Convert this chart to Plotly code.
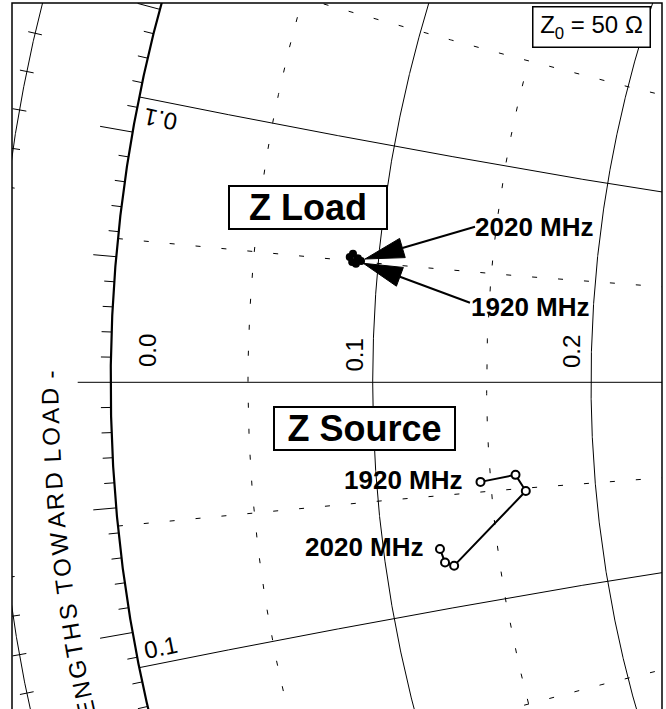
import math
import numpy as np
import plotly.graph_objects as go

# ---------------- data ----------------
Z0 = 50.0
freq_mhz = [1920, 1940, 1960, 1980, 2000, 2020]
load_r_ohm = [4.57, 4.64, 4.54, 4.46, 4.40, 4.46]
load_x_ohm = [2.57, 2.52, 2.45, 2.48, 2.58, 2.65]
src_r_ohm = [7.27, 8.09, 8.30, 6.47, 6.28, 6.21]
src_x_ohm = [-2.27, -2.17, -2.57, -4.08, -3.98, -3.67]

r_major = [0.0, 0.1, 0.2]
r_minor = [0.05, 0.15]
x_major = [0.1, -0.1]
x_minor = [0.05, -0.05, 0.15, -0.15]
r_labels = ["0.0", "0.1", "0.2"]
x_labels = ["0.1", "0.1"]
scale_text = "- WAVELENGTHS TOWARD LOAD -"

# ---------------- geometry ----------------
W, H = 666, 709
S = 1441.0            # pixels per unit of reflection coefficient
CX, CY = 1551.7, 382.3


def P(px, py):
    return (px - CX) / S, (CY - py) / S


def gam(z):
    return (z - 1) / (z + 1)


fig = go.Figure()


def add_line(xs, ys, width=1.0, dash=None, color="black", fill=None):
    fig.add_trace(go.Scatter(x=list(xs), y=list(ys), mode="lines",
                             line=dict(color=color, width=width, dash=dash),
                             fill=fill, fillcolor=color if fill else None,
                             hoverinfo="skip", showlegend=False))


DASH = "5px,21px"
xs_sweep = np.linspace(-1.0, 1.0, 4001)
for r in r_major:
    g = gam(r + 1j * xs_sweep)
    add_line(g.real, g.imag, width=2.2 if r == 0 else 1.0)
for r in r_minor:
    xx = np.linspace(-0.15, 0.15, 1501)
    g = gam(r + 1j * xx)
    add_line(g.real, g.imag, width=1.0, dash=DASH)
rs_sweep = np.linspace(0.0, 1.5, 3001)
for x in x_major:
    g = gam(rs_sweep + 1j * x)
    add_line(g.real, g.imag, width=1.0)
for x in x_minor:
    g = gam(rs_sweep + 1j * x)
    add_line(g.real, g.imag, width=1.0, dash=DASH)
# real axis
add_line([-1.0, 1.0], [0.0, 0.0], width=1.0)
# outer (wavelength) circle
R_OUT = 1.08
th = np.radians(np.linspace(140, 220, 1601))
add_line(R_OUT * np.cos(th), R_OUT * np.sin(th), width=1.0)

# ticks on unit circle (angle of reflection coefficient, every degree)
tx, ty = [], []
for deg in range(150, 211):
    if deg % 10 == 0:
        L = 33
    elif deg % 5 == 0:
        L = 23
    else:
        L = 10
    a = math.radians(deg)
    r1 = 1.0 + L / S
    tx += [math.cos(a), r1 * math.cos(a), None]
    ty += [math.sin(a), r1 * math.sin(a), None]
add_line(tx, ty, width=1.0)
# ticks on outer circle (every 0.002 wavelength)
tx, ty = [], []
for k in range(-14, 15):
    a = math.radians(180 + 360 * 0.002 * k / 0.5)
    r0, r1 = R_OUT - 7 / S, R_OUT + 7 / S
    tx += [r0 * math.cos(a), r1 * math.cos(a), None]
    ty += [r0 * math.sin(a), r1 * math.sin(a), None]
add_line(tx, ty, width=1.0)

# ---------------- data traces ----------------
zl = [complex(r, x) for r, x in zip(load_r_ohm, load_x_ohm)]
gl = [(z - Z0) / (z + Z0) for z in zl]
zs = [complex(r, x) for r, x in zip(src_r_ohm, src_x_ohm)]
gs = [(z - Z0) / (z + Z0) for z in zs]

fig.add_trace(go.Scatter(x=[g.real for g in gl], y=[g.imag for g in gl],
                         mode="lines+markers", line=dict(color="black", width=2),
                         marker=dict(symbol="circle", size=8, color="black"),
                         hoverinfo="skip", showlegend=False))
fig.add_trace(go.Scatter(x=[g.real for g in gs], y=[g.imag for g in gs],
                         mode="lines+markers", line=dict(color="black", width=2),
                         marker=dict(symbol="circle", size=8, color="white",
                                     line=dict(color="black", width=2)),
                         hoverinfo="skip", showlegend=False))

# ---------------- arrows for load labels ----------------
def arrow(tail, tip, head_len=39, head_w=20):
    tx_, ty_ = tip
    dx, dy = tail[0] - tx_, tail[1] - ty_
    n = math.hypot(dx, dy)
    ux, uy = dx / n, dy / n
    bx, by = tx_ + ux * head_len, ty_ + uy * head_len
    px_, py_ = -uy, ux
    c1 = (bx + px_ * head_w / 2, by + py_ * head_w / 2)
    c2 = (bx - px_ * head_w / 2, by - py_ * head_w / 2)
    pts = [tip, c1, c2, tip]
    xs, ys = zip(*[P(*p) for p in pts])
    add_line(xs, ys, width=1, fill="toself")
    xs, ys = zip(*[P(bx, by), P(*tail)])
    add_line(xs, ys, width=2)


arrow((475, 226.7), (365, 259))
arrow((470, 302.7), (363.3, 263.3))

# ---------------- annotations ----------------
ann = []
FONT = "Liberation Sans, Arial, Helvetica, sans-serif"


def label(px, py, text, size, angle=0, bold=False, **kw):
    x, y = P(px, py)
    d = dict(x=x, y=y, xref="x", yref="y", text=f"<b>{text}</b>" if bold else text,
             showarrow=False, textangle=angle, xanchor="center", yanchor="middle",
             font=dict(family=FONT, size=size, color="black"))
    d.update(kw)
    ann.append(d)


label(147, 351, r_labels[0], 24, -90)
label(353.5, 355, r_labels[1], 24, -90)
label(571, 352, r_labels[2], 24, -90)
label(161, 120, x_labels[0], 24, -168.6)
label(160, 647, x_labels[1], 24, -11.4)

label(534, 227, "2020 MHz", 26, bold=True)
label(530, 307, "1920 MHz", 26, bold=True)
label(403, 480, "1920 MHz", 26, bold=True)
label(364, 547, "2020 MHz", 26, bold=True)

label(308, 207.5, "Z Load", 36, bold=True, width=156, height=41, bordercolor="black",
      borderwidth=2, borderpad=0, bgcolor="white")
label(364.5, 428.5, "Z Source", 36, bold=True, width=179, height=41, bordercolor="black",
      borderwidth=2, borderpad=0, bgcolor="white")
label(591.5, 27, "Z<sub>0</sub> = 50 Ω", 24, width=116, height=39, bordercolor="black",
      borderwidth=1.5, borderpad=0, bgcolor="white")

# text along the outer scale, character by character
CW = {"-": .333, " ": .278, "W": .944, "A": .667, "V": .667, "E": .667, "L": .556,
      "N": .722, "G": .778, "T": .611, "H": .722, "S": .667, "O": .778, "R": .722,
      "D": .722}
TS = 24
SP = 1.17
R_TXT = 1.042 * S
chars = list(scale_text)
pos = [0.0] * len(chars)
pos[-1] = -8.0
for i in range(len(chars) - 2, -1, -1):
    pos[i] = pos[i + 1] + SP * TS * (CW[chars[i]] + CW[chars[i + 1]]) / 2
for ch, sp in zip(chars, pos):
    if ch == " ":
        continue
    phi = math.pi + sp / R_TXT
    gx, gy = 1.042 * math.cos(phi), 1.042 * math.sin(phi)
    ann.append(dict(x=gx, y=gy, xref="x", yref="y", text=ch, showarrow=False,
                    textangle=90 - math.degrees(phi), xanchor="center", yanchor="middle",
                    font=dict(family=FONT, size=TS, color="black")))

x0, _ = P(12, 0)
x1, _ = P(662, 0)
_, y0 = P(0, 709)
_, y1 = P(0, 3)

fig.update_layout(
    width=W, height=H,
    margin=dict(l=12, r=4, t=3, b=0, pad=0),
    paper_bgcolor="white", plot_bgcolor="white",
    xaxis=dict(range=[x0, x1], visible=False, fixedrange=True),
    yaxis=dict(range=[y0, y1], visible=False, fixedrange=True),
    annotations=ann,
    shapes=[dict(type="rect", xref="paper", yref="paper", x0=0, x1=1, y0=-0.02, y1=1,
                 line=dict(color="black", width=1.5), layer="above")],
    showlegend=False,
)

fig.write_html("out.html", config={"displayModeBar": False},
               post_script="document.body.style.margin='0';document.body.style.overflow='hidden';")
